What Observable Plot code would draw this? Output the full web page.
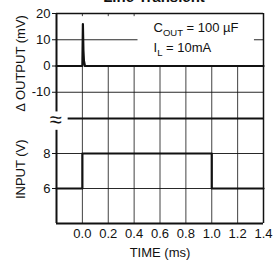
<!DOCTYPE html>
<html><head><meta charset="utf-8">
<script src="https://cdn.jsdelivr.net/npm/d3@7"></script>
<script src="https://cdn.jsdelivr.net/npm/@observablehq/plot@0.6"></script>
<style>html,body{margin:0;padding:0;background:#fff;} svg{display:block}</style>
</head><body><div id="chart"></div>
<script>
// ---- data ----
const outTime = [-0.2, 0.0, 0.004, 0.008, 0.012, 0.02, 1.4];      // ms
const outMilliVolts = [0, 0, 16, 6, 2, 0, 0];                       // Δ output (mV)
const inTime = [-0.2, 0.0, 0.0, 1.0, 1.0, 1.4];                      // ms
const inVolts = [6, 6, 8, 8, 6, 6];                                  // input (V)
const timeTicks = [0, 0.2, 0.4, 0.6, 0.8, 1.0, 1.2, 1.4];
const outTicks = [20, 10, 0, -10];
const inTicks = [8, 6];
const outGrid = [10, -10];
const inGrid = [8, 6];
const titleText = "Line Transient";
const annotMain = ["C", "I"];
const annotSub = ["OUT", "L"];
const annotRest = [" = 100 µF", " = 10mA"];

// two stacked panels share one vertical scale: upper in mV (-20..20), lower in V (4..10)
const vToY = v => -20 + (v - 10) * 40 / 6;
const yTickValues = [...outTicks, ...inTicks.map(vToY)];
const yTickLabels = [...outTicks.map(String), ...inTicks.map(String)];

const outData = outTime.map((t, i) => ({t, y: outMilliVolts[i]}));
const inData = inTime.map((t, i) => ({t, y: vToY(inVolts[i])}));
const annot = annotMain.map((m, i) => ({x: 0.55, y: [14.6, 7.0][i], i}));

const ink = "#111";
const plot = Plot.plot({
  width: 277, height: 261,
  marginLeft: 56, marginRight: 14, marginTop: 13, marginBottom: 38,
  style: {fontFamily: "'Liberation Sans', Arial, sans-serif", fontSize: "13px", background: "white", color: ink},
  x: {domain: [-0.2, 1.4], ticks: timeTicks, tickFormat: d => d.toFixed(1), tickSize: 0, tickPadding: 5, label: null},
  y: {domain: [-60, 20], ticks: yTickValues,
      tickFormat: d => yTickLabels[yTickValues.findIndex(v => Math.abs(v - d) < 1e-6)],
      tickSize: 4, tickPadding: 2, label: null},
  marks: [
    // grid
    Plot.ruleX(timeTicks, {y1: -60, y2: 0, stroke: ink, strokeWidth: 0.8}),
    Plot.ruleX(timeTicks, {y1: 20, y2: 18.8, stroke: ink, strokeWidth: 0.8}),
    Plot.ruleY(outGrid, {stroke: ink, strokeWidth: 0.9}),
    Plot.ruleY(inGrid.map(vToY), {stroke: ink, strokeWidth: 0.9}),
    // annotation box
    Plot.rect([0], {x1: 0.43, x2: 1.33, y1: 3, y2: 20, fill: "white"}),
    // break line
    Plot.ruleY([-20], {x1: -0.11, x2: 1.4, stroke: ink, strokeWidth: 2}),
    // traces
    Plot.line(outData, {x: "t", y: "y", stroke: ink, strokeWidth: 2.2}),
    Plot.line(inData, {x: "t", y: "y", stroke: ink, strokeWidth: 2.2}),
    // frame
    Plot.ruleY([20], {stroke: ink, strokeWidth: 1.5}),
    Plot.ruleY([-60], {stroke: ink, strokeWidth: 2}),
    Plot.ruleX([1.4], {stroke: ink, strokeWidth: 1.5}),
    Plot.ruleX([-0.2], {y1: 20, y2: -17.5, stroke: ink, strokeWidth: 2}),
    Plot.ruleX([-0.2], {y1: -24.5, y2: -60, stroke: ink, strokeWidth: 2}),
    Plot.text(["≈"], {x: -0.2, y: -20.5, dx: -1, fontSize: 22, fill: ink}),
    // texts
    Plot.text([titleText], {frameAnchor: "top", dx: -6, dy: -12, lineAnchor: "bottom", textAnchor: "middle", fontWeight: "bold", fontSize: 15, fill: ink}),
    Plot.text(["Δ OUTPUT (mV)"], {y: 1, frameAnchor: "left", dx: -36, rotate: -90, textAnchor: "middle", lineAnchor: "middle", fontSize: 13, fill: ink}),
    Plot.text(["INPUT (V)"], {y: vToY(7.1), frameAnchor: "left", dx: -36, rotate: -90, textAnchor: "middle", lineAnchor: "middle", fontSize: 13, fill: ink}),
    Plot.text(["TIME (ms)"], {frameAnchor: "bottom", dy: 33, lineAnchor: "bottom", textAnchor: "middle", fontSize: 13, fill: ink}),
    Plot.text(annot, {x: "x", y: "y", text: d => annotMain[d.i] + annotSub[d.i] + annotRest[d.i], textAnchor: "start", fontSize: 13, fill: ink})
  ]
});

// subscripts for the annotation
annotMain.forEach((m, k) => {
  const full = m + annotSub[k] + annotRest[k];
  d3.select(plot).selectAll("text").filter(function() { return this.textContent === full; }).each(function() {
    const t = d3.select(this);
    t.text(null);
    t.append("tspan").text(m);
    t.append("tspan").attr("dy", 4).attr("font-size", 9.5).text(annotSub[k]);
    t.append("tspan").attr("dy", -4).text(annotRest[k]);
  });
});

document.getElementById("chart").appendChild(plot);
</script></body></html>
